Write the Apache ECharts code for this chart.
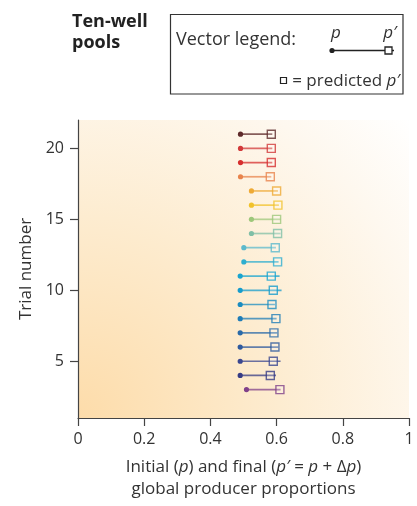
<!DOCTYPE html>
<html>
<head>
<meta charset="utf-8">
<script src="https://cdn.jsdelivr.net/npm/echarts@6/dist/echarts.min.js"></script>
<style>
  html, body { margin: 0; padding: 0; background: #fff; }
  #chart { width: 417px; height: 506px; }
</style>
</head>
<body>
<div id="chart"></div>
<script>
// trial numbers, bottom to top
const trials = [3, 4, 5, 6, 7, 8, 9, 10, 11, 12, 13, 14, 15, 16, 17, 18, 19, 20, 21];
// initial producer proportion p
const pInitial = [0.509, 0.49, 0.49, 0.49, 0.49, 0.49, 0.49, 0.49, 0.49, 0.501, 0.501, 0.524, 0.524, 0.524, 0.524, 0.491, 0.491, 0.491, 0.491];
// final proportion p' (end of the line)
const pFinal = [0.612, 0.598, 0.612, 0.605, 0.602, 0.6, 0.595, 0.615, 0.609, 0.606, 0.598, 0.612, 0.612, 0.607, 0.604, 0.584, 0.587, 0.587, 0.587];
// predicted p' (square)
const pPredicted = [0.61, 0.581, 0.59, 0.595, 0.592, 0.598, 0.586, 0.59, 0.584, 0.603, 0.596, 0.603, 0.6, 0.604, 0.6, 0.581, 0.584, 0.584, 0.584];
const yTicks = [5, 10, 15, 20];

const trialColors = [
  "#80418a", "#363b84", "#3a4790", "#2f5a9e", "#2a6aa8", "#1f7db7", "#1a8cc0",
  "#169ccc", "#18a4cf", "#2eaecf", "#5cb9cc", "#80bfa6", "#9dc77a", "#f1c22a",
  "#eeaa35", "#e8844c", "#d62e2e", "#d23a3a", "#5e2a2a"
];

const FONT = "'Open Sans', sans-serif";
const TEXT = "#333";

const chart = echarts.init(document.getElementById("chart"));

const option = {
  animation: false,
  grid: {
    left: 78,
    right: 8,
    top: 120,
    bottom: 88,
    show: true,
    borderWidth: 0,
    backgroundColor: {
      type: "radial",
      x: 0,
      y: 1,
      r: 1.5,
      colorStops: [
        { offset: 0, color: "#fddcaa" },
        { offset: 0.45, color: "#fdecd0" },
        { offset: 0.8, color: "#fef8ef" },
        { offset: 1, color: "#ffffff" }
      ]
    }
  },
  xAxis: {
    type: "value",
    min: 0,
    max: 1,
    interval: 0.2,
    splitLine: { show: false },
    axisLine: { show: true, lineStyle: { color: "#444", width: 1.2 } },
    axisTick: { show: true, length: 8, lineStyle: { color: "#444", width: 1.2 } },
    axisLabel: { color: TEXT, fontFamily: FONT, fontSize: 16, margin: 13 },
    name: "Initial ({i|p}) and final ({i|p′} = {i|p} + Δ{i|p})\nglobal producer proportions",
    nameLocation: "middle",
    nameGap: 38,
    nameTextStyle: {
      color: TEXT,
      fontFamily: FONT,
      fontSize: 17,
      lineHeight: 22,
      rich: {
        i: { fontStyle: "italic", fontFamily: FONT, fontSize: 17, color: TEXT, lineHeight: 22 }
      }
    }
  },
  yAxis: {
    type: "value",
    min: 1,
    max: 22,
    splitLine: { show: false },
    axisLine: { show: true, lineStyle: { color: "#444", width: 1.2 } },
    axisTick: { show: true, length: 8, customValues: yTicks, lineStyle: { color: "#444", width: 1.2 } },
    axisLabel: { color: TEXT, fontFamily: FONT, fontSize: 16, margin: 14, customValues: yTicks },
    name: "Trial number",
    nameLocation: "middle",
    nameGap: 38,
    nameTextStyle: { color: TEXT, fontFamily: FONT, fontSize: 17 }
  },
  series: [
    {
      type: "custom",
      data: trials.map((t, i) => [t, pInitial[i], pFinal[i], pPredicted[i]]),
      encode: { x: [1, 2, 3], y: 0 },
      renderItem: (params, api) => {
        const t = api.value(0);
        const a = api.coord([api.value(1), t]);
        const b = api.coord([api.value(2), t]);
        const c = api.coord([api.value(3), t]);
        const color = trialColors[params.dataIndex];
        return {
          type: "group",
          children: [
            {
              type: "line",
              shape: { x1: a[0], y1: a[1], x2: b[0], y2: b[1] },
              style: { stroke: color, lineWidth: 1.7, opacity: 0.75 }
            },
            {
              type: "rect",
              shape: { x: c[0] - 4, y: c[1] - 4, width: 8, height: 8 },
              style: { stroke: color, lineWidth: 1.4, fill: "rgba(255,255,255,0.25)", opacity: 0.8 }
            },
            {
              type: "circle",
              shape: { cx: a[0], cy: a[1], r: 2.6 },
              style: { fill: color }
            }
          ]
        };
      }
    }
  ],
  graphic: [
    {
      type: "text",
      left: 72,
      top: 11,
      style: {
        text: "Ten-well\npools",
        font: "bold 18px " + FONT,
        fill: "#222",
        lineHeight: 21
      }
    },
    {
      type: "rect",
      shape: { x: 170.5, y: 14.5, width: 232.5, height: 79.5 },
      style: { fill: "#fff", stroke: "#333", lineWidth: 1.2 }
    },
    {
      type: "text",
      left: 176,
      top: 31,
      style: { text: "Vector legend:", font: "18px " + FONT, fill: TEXT }
    },
    {
      type: "text",
      x: 336,
      y: 33,
      style: { text: "p", font: "italic 17px " + FONT, fill: TEXT, align: "center", verticalAlign: "middle" }
    },
    {
      type: "text",
      x: 390,
      y: 33,
      style: { text: "p′", font: "italic 17px " + FONT, fill: TEXT, align: "center", verticalAlign: "middle" }
    },
    {
      type: "line",
      shape: { x1: 332, y1: 50.5, x2: 394, y2: 50.5 },
      style: { stroke: "#222", lineWidth: 1.5 }
    },
    {
      type: "circle",
      shape: { cx: 332, cy: 50.5, r: 2.6 },
      style: { fill: "#222" }
    },
    {
      type: "rect",
      shape: { x: 385, y: 47, width: 7, height: 7 },
      style: { fill: "#fff", stroke: "#222", lineWidth: 1.3 }
    },
    {
      type: "rect",
      shape: { x: 280.5, y: 77.5, width: 6, height: 6 },
      style: { fill: "#fff", stroke: "#222", lineWidth: 1.2 }
    },
    {
      type: "text",
      x: 400,
      y: 81,
      style: {
        text: "= predicted {i|p′}",
        font: "17px " + FONT,
        fill: TEXT,
        align: "right",
        verticalAlign: "middle",
        rich: { i: { font: "italic 17px " + FONT, fill: TEXT } }
      }
    }
  ]
};

chart.setOption(option);
</script>
</body>
</html>
